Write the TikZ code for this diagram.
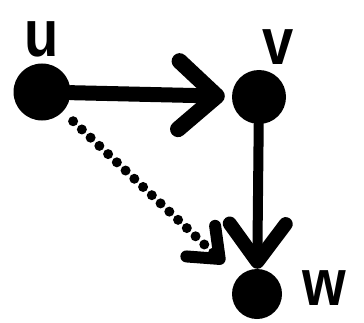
\documentclass[tikz,border=0pt]{standalone}
\usepackage{fontspec}
\setsansfont{Liberation Sans}
\usetikzlibrary{positioning, arrows.meta}

\begin{document}
\begin{tikzpicture}[x=1pt, y=1pt, line cap=round,
    vertex/.style={circle, fill=black, inner sep=0pt},
    lbl/.style={font=\sffamily\bfseries\fontsize{66}{66}\selectfont, inner sep=0pt, xscale=0.85}]
    \useasboundingbox (0,0) rectangle (364,322);
    \node[vertex, minimum size=57pt] (u) at (42,230) {};
    \node[vertex, minimum size=54pt] (v) at (259,225) {};
    \node[vertex, minimum size=50pt] (w) at (257,28) {};
    \node[lbl] (lu) at (42,283) {u};
    \node[lbl] (lv) at (278,275) {v};
    \node[lbl] (lw) at (324,34) {w};
    \draw[-{Straight Barb[length=38pt, width=68pt, round, line width=16pt]}, line width=15pt, shorten >=7pt] (u) -- (v);
    \draw[-{Straight Barb[length=38pt, width=56pt, round, line width=14pt]}, line width=10pt] (v) -- (w);
    \draw[-{Straight Barb[length=26pt, width=42pt, round, line width=12pt]}, line width=10pt,
        dash pattern=on 0pt off 12pt, shorten <=14pt, shorten >=20pt] (u) -- (w);
\end{tikzpicture}
\end{document}
